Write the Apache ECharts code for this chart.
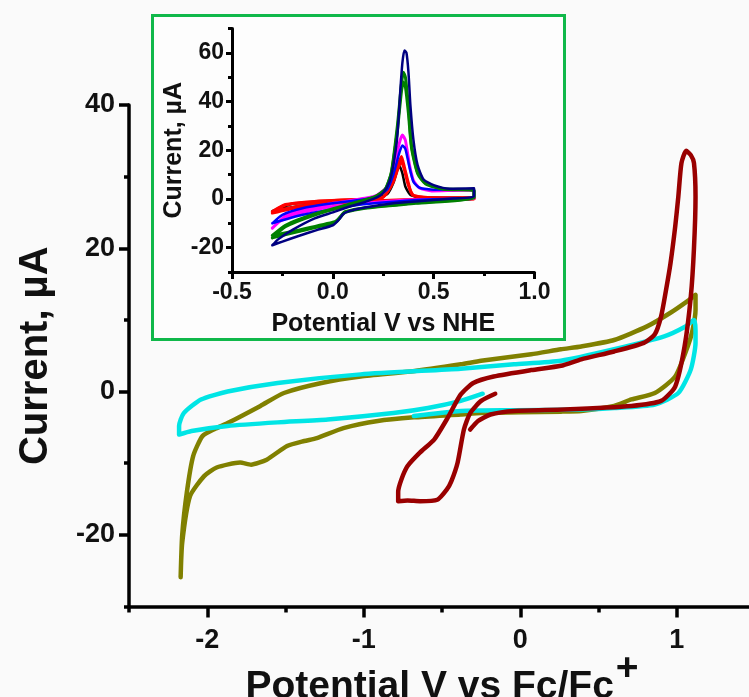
<!DOCTYPE html>
<html>
<head>
<meta charset="utf-8">
<script src="https://cdn.jsdelivr.net/npm/echarts@6/dist/echarts.min.js"></script>
<style>
  html, body { margin: 0; padding: 0; background: #fafafa; }
  #main { width: 749px; height: 697px; }
</style>
</head>
<body>
<div id="main"></div>
<script>
// main CV curves, [potential V vs Fc/Fc+, current uA]
var oliveCV = [
  [-2.17,-25.9],[-2.16,-20],[-2.13,-14],[-2.09,-9.0],[-2.03,-6.2],[-1.95,-5.2],[-1.87,-4.4],
  [-1.66,-2.0],[-1.51,-0.2],[-1.27,1.2],[-1.02,2.1],[-0.70,2.8],[-0.38,3.8],[-0.25,4.3],
  [0.07,5.2],[0.26,5.9],[0.39,6.3],[0.60,7.2],[0.81,9.1],[0.96,11.0],[1.08,12.8],[1.12,13.5],
  [1.12,11.4],[1.10,8.5],[1.07,6.3],[0.99,2.1],[0.86,-0.2],[0.71,-1.1],[0.60,-2.0],[0.39,-2.7],
  [0.26,-2.8],[-0.25,-3.0],[-0.38,-3.2],[-0.68,-3.6],[-0.91,-4.1],[-1.13,-5.1],[-1.30,-6.5],
  [-1.38,-6.9],[-1.49,-7.6],[-1.62,-9.5],[-1.72,-10.2],[-1.79,-9.9],[-1.94,-10.6],[-2.02,-11.8],
  [-2.11,-14.6],[-2.16,-21.1],[-2.17,-25.9]
];
var cyanCV = [
  [-0.24,-0.3],[-0.38,-1.3],[-0.59,-2.3],[-0.81,-3.0],[-1.23,-3.9],[-1.55,-4.3],[-1.87,-4.8],
  [-2.10,-5.5],[-2.18,-6.0],[-2.18,-4.8],[-2.15,-3.0],[-2.04,-1.1],[-1.87,0.0],[-1.55,1.2],
  [-1.02,2.4],[-0.38,3.2],[-0.04,3.8],[0.26,4.3],[0.60,5.9],[0.92,7.7],[1.05,9.0],[1.11,10.0],
  [1.12,8.5],[1.12,6.8],[1.09,3.1],[1.01,-0.2],[0.86,-1.8],[0.60,-2.3],[0.39,-2.5],[-0.04,-2.6],
  [-0.38,-2.7],[-0.68,-3.4]
];
var maroonCV = [
  [-0.16,-0.3],[-0.25,-1.3],[-0.32,-3.0],[-0.36,-5.3],[-0.40,-9.9],[-0.44,-12.5],[-0.47,-13.7],
  [-0.53,-15.1],[-0.64,-15.3],[-0.72,-15.2],[-0.78,-15.3],[-0.78,-14],[-0.76,-12.3],[-0.72,-10.4],
  [-0.64,-8.5],[-0.55,-6.7],[-0.47,-3.9],[-0.38,-0.4],[-0.30,1.2],[-0.17,2.1],[0.07,3.0],
  [0.26,3.6],[0.39,4.5],[0.60,5.6],[0.79,6.8],[0.86,8.0],[0.90,10.5],[0.93,14],[0.96,17.9],
  [0.99,23],[1.01,27.2],[1.03,31.9],[1.06,33.6],[1.09,33],[1.11,31.9],[1.12,27.2],[1.11,20],
  [1.09,13.3],[1.05,6.3],[0.99,0.7],[0.90,-1.3],[0.71,-2.0],[0.28,-2.5],[-0.04,-2.7],
  [-0.19,-3.2],[-0.27,-4.1],[-0.32,-5.3]
];

// inset CV curves, [potential V vs NHE, current uA]
var insetBlack = [
  [-0.30,-5.0],[-0.20,-2.0],[0.0,-0.8],[0.20,0.0],[0.27,2.0],[0.30,6.5],[0.32,12.0],[0.33,13.5],
  [0.345,10.5],[0.36,5.0],[0.385,1.6],[0.43,0.7],[0.70,0.4],[0.70,0.0],[0.40,-0.4],[0.0,-1.6],
  [-0.17,-3.0],[-0.30,-5.0]
];
var insetRed1 = [
  [-0.30,-5.5],[-0.235,-2.5],[-0.09,-1.1],[0.16,-0.1],[0.245,0.5],[0.295,6.4],[0.32,13.3],
  [0.34,17.4],[0.355,13],[0.375,6.4],[0.395,1.6],[0.49,0.3],[0.70,0.3],[0.70,0.0],[0.41,-0.4],
  [0.0,-1.8],[-0.17,-3.4],[-0.30,-5.8]
];
var insetRed2 = [
  [-0.30,-5.2],[-0.235,-2.3],[-0.09,-1.0],[0.16,0.0],[0.25,0.8],[0.30,7.0],[0.325,13.0],
  [0.34,15.3],[0.355,12],[0.375,5.5],[0.40,1.5],[0.49,0.5],[0.70,0.5],[0.70,0.1],[0.41,-0.2],
  [0.0,-1.5],[-0.17,-3.0],[-0.30,-5.2]
];
var insetMagenta = [
  [-0.30,-12.0],[-0.235,-7.0],[-0.17,-5.0],[0.0,-1.8],[0.16,0.3],[0.22,1.6],[0.27,5],
  [0.30,12],[0.33,23],[0.345,26.3],[0.36,24],[0.38,14],[0.40,7.5],[0.43,4.5],[0.49,3.3],
  [0.65,3.6],[0.70,3.2],[0.70,0.3],[0.35,-0.5],[0.0,-3.1],[-0.17,-6.1],[-0.26,-9.0],[-0.30,-12.0]
];
var insetBlue = [
  [-0.30,-10.0],[-0.25,-6.5],[-0.15,-3.8],[0.0,-1.8],[0.15,-0.2],[0.22,1.2],[0.27,4],
  [0.30,10],[0.33,19],[0.345,22],[0.36,20.5],[0.38,13],[0.40,7],[0.43,4.6],[0.50,3.8],
  [0.70,3.9],[0.70,1.0],[0.40,-0.5],[0.15,-2.2],[0.0,-4.2],[-0.15,-6.5],[-0.30,-10.0]
];
var insetGreen1 = [
  [-0.30,-16.0],[-0.235,-11.4],[-0.09,-6.6],[0.08,-2.5],[0.21,0.9],[0.26,4],[0.29,11],
  [0.32,30],[0.34,47],[0.35,52],[0.36,50],[0.375,38],[0.39,22],[0.42,11],[0.46,6.5],
  [0.55,4.2],[0.70,3.6],[0.70,0.5],[0.41,-1.8],[0.16,-3.8],[0.06,-5.5],[0.047,-6.6],
  [0.02,-9.2],[0.0,-10.0],[-0.17,-13.4],[-0.30,-16.0]
];
var insetGreen2 = [
  [-0.30,-15.0],[-0.235,-10.8],[-0.09,-6.2],[0.08,-2.2],[0.21,1.0],[0.26,4],[0.29,10.5],
  [0.32,28],[0.34,44],[0.35,48],[0.36,46],[0.375,35],[0.39,21],[0.42,10.5],[0.46,6.2],
  [0.55,4.0],[0.70,3.4],[0.70,0.6],[0.41,-1.6],[0.16,-3.6],[0.06,-5.2],[0.047,-6.3],
  [0.02,-8.8],[0.0,-9.6],[-0.17,-12.8],[-0.30,-15.0]
];
var insetNavy = [
  [-0.30,-19.0],[-0.27,-16.5],[-0.20,-12.7],[-0.09,-8.0],[0.0,-5.5],[0.08,-3.2],[0.15,-1.5],
  [0.21,0.3],[0.25,2.5],[0.28,7],[0.30,14],[0.32,26],[0.335,45],[0.345,56],[0.355,61],
  [0.365,60],[0.375,52],[0.385,38],[0.40,24],[0.42,14],[0.45,8],[0.50,5.7],[0.58,4.2],
  [0.70,4.4],[0.70,1.0],[0.60,0.2],[0.50,-0.4],[0.41,-1.0],[0.30,-1.8],[0.16,-3.5],
  [0.08,-5.0],[0.05,-6.3],[0.03,-8.5],[0.0,-10.8],[-0.08,-12.8],[-0.17,-15.2],[-0.25,-17.5],
  [-0.30,-19.0]
];

// ticks (major = labelled, minor = short marks)
var mainXMajor = [-2, -1, 0, 1];
var mainXMinor = [-2.5, -1.5, -0.5, 0.5, 1.5];
var mainYMajor = [-20, 0, 20, 40];
var mainYMinor = [-30, -10, 10, 30];
var insetXMajor = [-0.5, 0, 0.5, 1.0];
var insetXMinor = [-0.25, 0.25, 0.75];
var insetYMajor = [-20, 0, 20, 40, 60];
var insetYMinor = [-30, -10, 10, 30, 50, 70];

var FONT = 'Liberation Sans, Arial, sans-serif';

var myChart = echarts.init(document.getElementById('main'));

function lineSeries(name, data, color, width, xi, yi) {
  return {
    name: name,
    type: 'line',
    data: data,
    xAxisIndex: xi,
    yAxisIndex: yi,
    showSymbol: false,
    symbol: 'none',
    smooth: 0.2,
    lineStyle: { color: color, width: width, cap: 'round', join: 'round' },
    z: 5
  };
}

// bare axis carrying only the short minor tick marks
function minorAxis(dim, grid, min, max, ticks, len, width) {
  return {
    type: 'value',
    gridIndex: grid,
    position: dim === 'x' ? 'bottom' : 'left',
    min: min,
    max: max,
    axisLine: { show: false, onZero: false },
    axisTick: { customValues: ticks, length: len, lineStyle: { color: '#000', width: width } },
    axisLabel: { show: false },
    splitLine: { show: false }
  };
}

option = {
  backgroundColor: '#fafafa',
  animation: false,
  graphic: [{
    type: 'rect',
    left: 151,
    top: 14,
    shape: { width: 412, height: 324 },
    style: { fill: '#fdfdfd', stroke: '#10b84a', lineWidth: 3 },
    z: -10
  }],
  grid: [
    { left: 129, top: 105, width: 626, height: 501.5, outerBoundsMode: 'none', containLabel: false },
    { left: 232, top: 28.5, width: 302.5, height: 243.5, outerBoundsMode: 'none', containLabel: false }
  ],
  xAxis: [{
    type: 'value',
    gridIndex: 0,
    position: 'bottom',
    min: -2.5,
    max: 1.5,
    name: '{a|Potential V vs Fc/Fc}{b|+}',
    nameLocation: 'middle',
    nameGap: 61,
    nameMoveOverlap: false,
    nameTextStyle: {
      rich: {
        a: { fontFamily: FONT, fontWeight: 'bold', fontSize: 39, color: '#111', lineHeight: 39, verticalAlign: 'bottom' },
        b: { fontFamily: FONT, fontWeight: 'bold', fontSize: 39, color: '#111', lineHeight: 39, verticalAlign: 'bottom', padding: [0, 0, 18, 2] }
      }
    },
    axisLine: { onZero: false, lineStyle: { color: '#000', width: 3.5 } },
    axisTick: { customValues: mainXMajor, length: 11, lineStyle: { color: '#000', width: 3.5 } },
    axisLabel: {
      customValues: mainXMajor,
      fontFamily: FONT, fontWeight: 'bold', fontSize: 27, color: '#111', margin: 21
    },
    splitLine: { show: false }
  },
  minorAxis('x', 0, -2.5, 1.5, mainXMinor, 6, 3.5),
  {
    type: 'value',
    gridIndex: 1,
    position: 'bottom',
    min: -0.5,
    max: 1.0,
    name: 'Potential V vs NHE',
    nameLocation: 'middle',
    nameGap: 40,
    nameTextStyle: { fontFamily: FONT, fontWeight: 'bold', fontSize: 25, color: '#111' },
    axisLine: { onZero: false, lineStyle: { color: '#000', width: 3 } },
    axisTick: { customValues: insetXMajor, length: 7, lineStyle: { color: '#000', width: 3 } },
    axisLabel: {
      customValues: insetXMajor,
      fontFamily: FONT, fontWeight: 'bold', fontSize: 23, color: '#111', margin: 9,
      formatter: function (v) { return v.toFixed(1); }
    },
    splitLine: { show: false }
  },
  minorAxis('x', 1, -0.5, 1.0, insetXMinor, 4, 3)],
  yAxis: [{
    type: 'value',
    gridIndex: 0,
    position: 'left',
    min: -30,
    max: 40,
    name: 'Current, µA',
    nameLocation: 'middle',
    nameRotate: 90,
    nameGap: 73,
    nameTextStyle: { fontFamily: FONT, fontWeight: 'bold', fontSize: 40, color: '#111' },
    axisLine: { onZero: false, lineStyle: { color: '#000', width: 3.5 } },
    axisTick: { customValues: mainYMajor, length: 10, lineStyle: { color: '#000', width: 3.5 } },
    axisLabel: {
      customValues: mainYMajor,
      fontFamily: FONT, fontWeight: 'bold', fontSize: 27, color: '#111', margin: 14
    },
    splitLine: { show: false }
  },
  minorAxis('y', 0, -30, 40, mainYMinor, 5, 3.5),
  {
    type: 'value',
    gridIndex: 1,
    position: 'left',
    min: -30,
    max: 70,
    name: 'Current, µA',
    nameLocation: 'middle',
    nameRotate: 90,
    nameGap: 45,
    nameTextStyle: { fontFamily: FONT, fontWeight: 'bold', fontSize: 25, color: '#111' },
    axisLine: { onZero: false, lineStyle: { color: '#000', width: 3 } },
    axisTick: { customValues: insetYMajor, length: 6, lineStyle: { color: '#000', width: 3 } },
    axisLabel: {
      customValues: insetYMajor,
      fontFamily: FONT, fontWeight: 'bold', fontSize: 23, color: '#111', margin: 8
    },
    splitLine: { show: false }
  },
  minorAxis('y', 1, -30, 70, insetYMinor, 4, 3)],
  series: [
    lineSeries('olive', oliveCV, '#808000', 4.5, 0, 0),
    lineSeries('cyan', cyanCV, '#00e5e5', 4.5, 0, 0),
    lineSeries('maroon', maroonCV, '#990000', 4.5, 0, 0),
    lineSeries('black', insetBlack, '#000000', 2.5, 2, 2),
    lineSeries('red1', insetRed1, '#ff0000', 3, 2, 2),
    lineSeries('red2', insetRed2, '#ff0000', 3, 2, 2),
    lineSeries('magenta', insetMagenta, '#ff00ff', 3, 2, 2),
    lineSeries('blue', insetBlue, '#0000ff', 2.5, 2, 2),
    lineSeries('green1', insetGreen1, '#008000', 3, 2, 2),
    lineSeries('green2', insetGreen2, '#008000', 3, 2, 2),
    lineSeries('navy', insetNavy, '#000080', 2.5, 2, 2)
  ]
};

myChart.setOption(option);
</script>
</body>
</html>
